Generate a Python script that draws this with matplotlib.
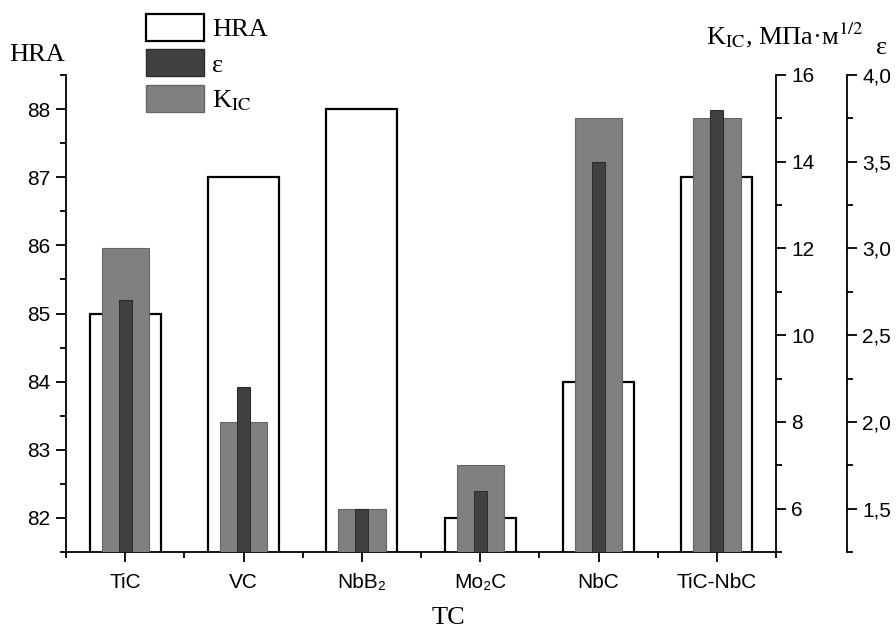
import matplotlib.pyplot as plt
from matplotlib.ticker import MultipleLocator, FuncFormatter
from matplotlib.patches import Patch

# values
materials = ['TiC', 'VC', 'NbB₂', 'Mo₂C', 'NbC', 'TiC-NbC']
hra = [85, 87, 88, 82, 84, 87]
k_ic = [12, 8, 6, 7, 15, 15]
eps = [2.7, 2.2, 1.5, 1.6, 3.5, 3.8]

serif = ['Liberation Serif', 'DejaVu Serif']
sans = ['Liberation Sans', 'DejaVu Sans']
plt.rcParams['font.family'] = sans
plt.rcParams['mathtext.fontset'] = 'stix'

fig = plt.figure(figsize=(8.96, 6.34), dpi=100)
ax = fig.add_axes([66/896, 82/634, 710/896, 477/634])
ax2 = ax.twinx()
ax3 = ax.twinx()
ax3.spines['right'].set_position(('axes', 781/710))

x = list(range(len(materials)))

# HRA - white boxes, K_IC - grey, epsilon - narrow dark bars
ax.bar(x, hra, width=0.6, facecolor='white', edgecolor='black', linewidth=1.6)
ax2.bar(x, k_ic, width=0.4, facecolor='#808080', edgecolor='#666666', linewidth=0.8)
ax3.bar(x, eps, width=0.11, facecolor='#404040', edgecolor='#2e2e2e', linewidth=0.8)

ax.set_xlim(-0.5, 5.5)
ax.set_ylim(81.5, 88.5)
ax2.set_ylim(5, 16)
ax3.set_ylim(1.25, 4.0)

ax.set_xticks(x, materials)
ax.xaxis.set_minor_locator(MultipleLocator(1, offset=0.5))
ax.yaxis.set_major_locator(MultipleLocator(1))
ax.yaxis.set_minor_locator(MultipleLocator(0.5))
ax2.yaxis.set_major_locator(MultipleLocator(2))
ax2.yaxis.set_minor_locator(MultipleLocator(1))
ax3.yaxis.set_major_locator(MultipleLocator(0.5))
ax3.yaxis.set_minor_locator(MultipleLocator(0.25))
ax3.yaxis.set_major_formatter(FuncFormatter(lambda v, p: f'{v:.1f}'.replace('.', ',')))

for a in (ax, ax2, ax3):
    for s in a.spines.values():
        s.set_linewidth(1.3)
ax.spines['top'].set_visible(False)
ax.spines['right'].set_visible(False)
for a in (ax2, ax3):
    a.spines['top'].set_visible(False)
    a.spines['left'].set_visible(False)
    a.spines['bottom'].set_visible(False)

for a in (ax, ax2, ax3):
    a.tick_params(which='major', direction='out', length=7, width=1.3, labelsize=15, pad=4)
    a.tick_params(which='minor', direction='out', length=4, width=1.3)
ax.tick_params(axis='x', which='major', pad=8)

# axis titles
fig.text(37/896, 1 - 55/634, 'HRA', ha='center', va='center', family=serif, fontsize=19)
fig.text(785/896, 1 - 35/634, r'K$_{\mathrm{IC}}$, МПа·м$^{1/2}$', ha='center', va='center',
         family=serif, fontsize=19)
fig.text(882/896, 1 - 48/634, 'ε', ha='center', va='center', family=serif, fontsize=19)
fig.text(448/896, 1 - 618/634, 'TC', ha='center', va='center', family=serif, fontsize=19)

handles = [Patch(facecolor='white', edgecolor='black', linewidth=1.6),
           Patch(facecolor='#404040', edgecolor='#2e2e2e'),
           Patch(facecolor='#808080', edgecolor='#666666')]
labels = ['HRA', 'ε', r'K$_{\mathrm{IC}}$']
fig.legend(handles, labels, loc='upper left', bbox_to_anchor=(146/896, 1 - 14/634),
           frameon=False, prop={'family': serif, 'size': 19}, handlelength=2.2,
           handleheight=1.2, labelspacing=0.3, handletextpad=0.3, borderpad=0,
           borderaxespad=0)

fig.savefig('out.png', dpi=100)
